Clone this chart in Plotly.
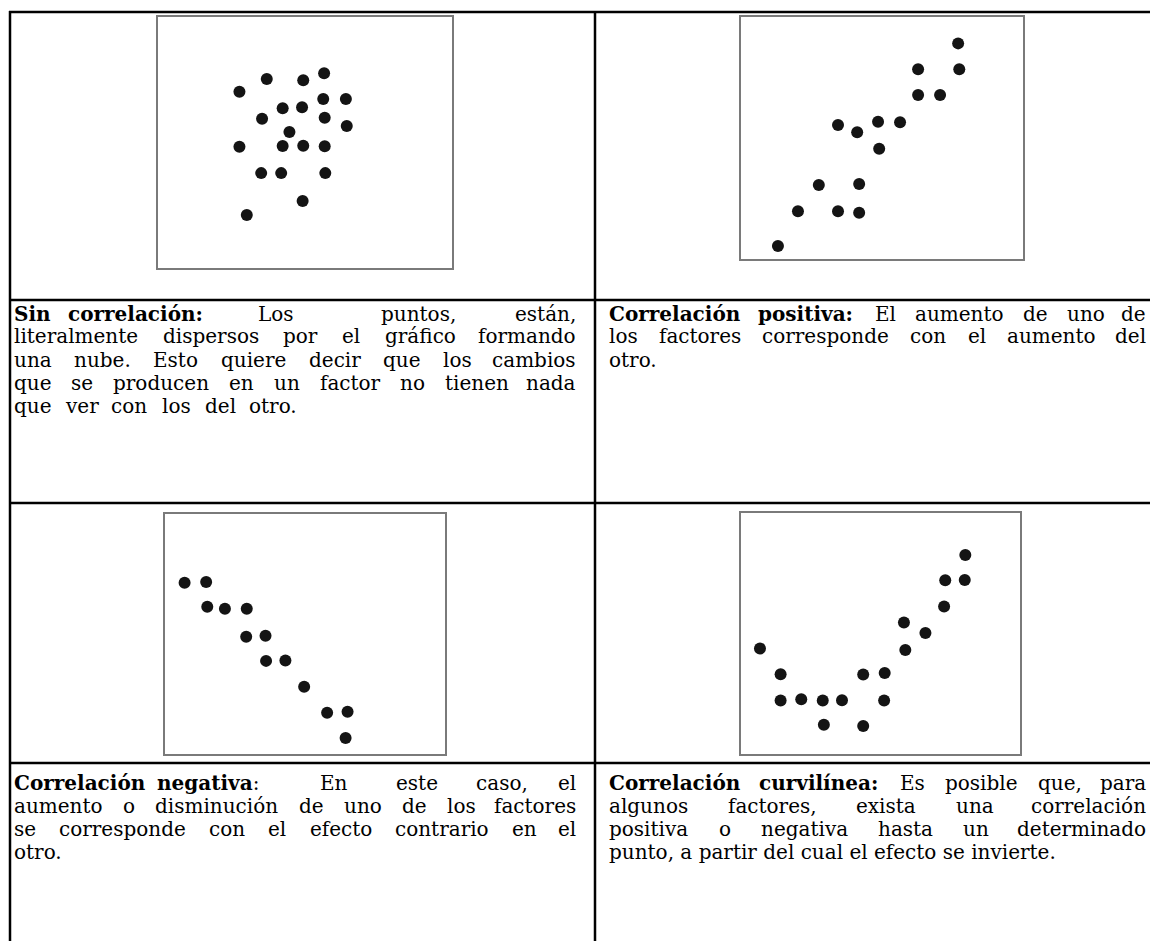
import plotly.graph_objects as go

W, H = 1150, 941

# Scatter panels, values on a 0-100 scale (x right, y up)
sin_x = [27.7, 37.0, 49.4, 56.5, 56.2, 63.9, 42.4, 49.0, 35.4, 56.7, 64.2,
         44.7, 27.7, 42.4, 49.4, 56.7, 35.1, 41.9, 56.9, 49.2, 30.2]
sin_y = [70.2, 75.3, 74.8, 77.6, 67.3, 67.3, 63.6, 64.0, 59.5, 59.9, 56.6,
         54.2, 48.3, 48.6, 48.7, 48.5, 37.8, 37.8, 37.8, 26.7, 21.1]

pos_x = [77.0, 62.8, 77.4, 62.8, 70.6, 34.4, 41.2, 48.6, 56.4, 49.0, 27.6,
         41.9, 20.2, 34.4, 41.9, 13.1]
pos_y = [89.1, 78.4, 78.4, 67.8, 67.8, 55.4, 52.4, 56.7, 56.5, 45.6, 30.6,
         31.0, 19.7, 19.7, 19.1, 5.4]

neg_x = [7.0, 14.7, 15.1, 21.4, 29.2, 29.0, 35.9, 36.1, 43.0, 49.7, 57.9, 65.2, 64.5]
neg_y = [71.4, 71.7, 61.4, 60.5, 60.5, 48.9, 49.3, 38.8, 39.0, 28.0, 17.2, 17.6, 6.7]

curv_x = [6.8, 14.2, 14.2, 21.6, 29.3, 36.2, 29.7, 43.8, 51.5, 51.3, 43.8,
          58.4, 58.9, 66.1, 72.8, 73.2, 80.2, 80.4]
curv_y = [43.8, 33.1, 22.2, 22.7, 22.2, 22.3, 12.1, 33.0, 33.6, 22.2, 11.6,
          54.6, 43.2, 50.2, 61.2, 72.1, 72.2, 82.6]

# Text of the four description cells, one list of words per printed line
cell1_words = [
    ["<b>Sin</b>", "<b>correlación:</b>", "Los", "puntos,", "están,"],
    ["literalmente", "dispersos", "por", "el", "gráfico", "formando"],
    ["una", "nube.", "Esto", "quiere", "decir", "que", "los", "cambios"],
    ["que", "se", "producen", "en", "un", "factor", "no", "tienen", "nada"],
    ["que", "ver", "con", "los", "del", "otro."],
]
cell2_words = [
    ["<b>Correlación</b>", "<b>positiva:</b>", "El", "aumento", "de", "uno", "de"],
    ["los", "factores", "corresponde", "con", "el", "aumento", "del"],
    ["otro."],
]
cell3_words = [
    ["<b>Correlación</b>", "<b>negativa</b>:", "En", "este", "caso,", "el"],
    ["aumento", "o", "disminución", "de", "uno", "de", "los", "factores"],
    ["se", "corresponde", "con", "el", "efecto", "contrario", "en", "el"],
    ["otro."],
]
cell4_words = [
    ["<b>Correlación</b>", "<b>curvilínea:</b>", "Es", "posible", "que,", "para"],
    ["algunos", "factores,", "exista", "una", "correlación"],
    ["positiva", "o", "negativa", "hasta", "un", "determinado"],
    ["punto, a partir del cual el efecto se invierte."],
]

# how each line is set: J = justified with even gaps, P = words at the given
# x (last one flush right), F = words at the given x, left aligned
cell1_mode = ["P", "J", "J", "J", "F"]
cell2_mode = ["J", "J", "F"]
cell3_mode = ["P", "J", "J", "F"]
cell4_mode = ["J", "J", "J", "F"]

cell1_pos = [[13, 67, 257, 380, 499], None, None, None, [13, 64, 110, 161, 204, 248]]
cell2_pos = [None, None, [608]]
cell3_pos = [[13, 156, 319, 395, 475, 561], None, None, [13]]
cell4_pos = [None, None, None, [608]]

FONT = "DejaVu Serif"
FSIZE = 20

# rough advance widths (em) of DejaVu Serif, used to spread the justified lines
REG = {" ": .318, ",": .318, ".": .318, ":": .337, "a": .596, "á": .596, "b": .640,
       "c": .560, "d": .640, "e": .592, "é": .592, "f": .370, "g": .640, "i": .320,
       "í": .320, "l": .320, "m": .948, "n": .644, "o": .602, "ó": .602, "p": .640,
       "q": .640, "r": .478, "s": .513, "t": .402, "u": .644, "v": .565, "x": .564,
       "C": .734, "E": .730, "L": .694, "S": .685}
BOLD = {":": .400, "a": .648, "c": .593, "e": .650, "g": .716, "i": .370, "í": .370,
        "l": .370, "n": .712, "o": .676, "ó": .676, "p": .716, "r": .533, "s": .593,
        "t": .478, "u": .712, "v": .652, "C": .751, "S": .722}


def word_width(w):
    bold = False
    total = 0
    i = 0
    while i < len(w):
        if w.startswith("<b>", i):
            bold, i = True, i + 3
            continue
        if w.startswith("</b>", i):
            bold, i = False, i + 4
            continue
        total += (BOLD if bold else REG).get(w[i], 0.6)
        i += 1
    return total * FSIZE


def px(x):
    return x / W


def py(y):
    return 1 - y / H


fig = go.Figure()

# panel boxes in pixels: left, right, top, bottom
panels = [
    (sin_x, sin_y, (158, 452, 17, 268)),
    (pos_x, pos_y, (741, 1023, 17, 259)),
    (neg_x, neg_y, (165, 445, 514, 754)),
    (curv_x, curv_y, (741, 1020, 513, 754)),
]

layout_axes = {}
for i, (xs, ys, box) in enumerate(panels, start=1):
    sfx = "" if i == 1 else str(i)
    fig.add_trace(go.Scatter(
        x=xs, y=ys, mode="markers",
        xaxis="x" + sfx, yaxis="y" + sfx,
        marker=dict(color="#141414", size=12, line=dict(width=0)),
        hoverinfo="skip", showlegend=False,
    ))
    axis_style = dict(range=[0, 100], showgrid=False, zeroline=False,
                      showticklabels=False, ticks="", showline=True, mirror=True,
                      linecolor="#7a7a7a", linewidth=2, fixedrange=True)
    layout_axes["xaxis" + sfx] = dict(axis_style, domain=[px(box[0]), px(box[1])],
                                      anchor="y" + sfx)
    layout_axes["yaxis" + sfx] = dict(axis_style, domain=[py(box[3]), py(box[2])],
                                      anchor="x" + sfx)

fig.update_layout(**layout_axes)

# table rules
shapes = []
for y in [12, 300, 503, 763]:
    shapes.append(dict(type="line", xref="paper", yref="paper",
                       x0=px(9), x1=1, y0=py(y), y1=py(y),
                       line=dict(color="black", width=2.5)))
for x in [10, 595]:
    shapes.append(dict(type="line", xref="paper", yref="paper",
                       x0=px(x), x1=px(x), y0=py(11), y1=0,
                       line=dict(color="black", width=2.5)))

# text cells: (words, modes, positions, line centres, left edge, right edge)
cells = [
    (cell1_words, cell1_mode, cell1_pos, [313.5, 336.5, 359.5, 382.5, 405.5], 13, 577),
    (cell2_words, cell2_mode, cell2_pos, [313.5, 336.5, 359.5], 608, 1147),
    (cell3_words, cell3_mode, cell3_pos, [783, 806, 829, 852], 13, 577),
    (cell4_words, cell4_mode, cell4_pos, [783, 806, 829, 852], 608, 1147),
]

annotations = []
for words, modes, pos, ys, left, right in cells:
    for line_words, mode, line_pos, y in zip(words, modes, pos, ys):
        widths = [word_width(w) for w in line_words]
        if mode == "J":
            gap = (right - left - sum(widths)) / (len(line_words) - 1)
            xs = [left]
            for wd in widths[:-1]:
                xs.append(xs[-1] + wd + gap)
        else:
            xs = list(line_pos)
            for j in range(1, len(xs)):
                xs[j] = max(xs[j], xs[j - 1] + widths[j - 1] + 6)
        for j, (w, x) in enumerate(zip(line_words, xs)):
            flush = mode in ("J", "P") and j == len(line_words) - 1
            annotations.append(dict(
                text=w, xref="paper", yref="paper",
                x=px(right if flush else x), y=py(y),
                xanchor="right" if flush else "left", yanchor="middle",
                showarrow=False, borderpad=0,
                font=dict(family=FONT, size=FSIZE, color="black"),
            ))

fig.update_layout(
    width=W, height=H,
    margin=dict(l=0, r=0, t=0, b=0),
    paper_bgcolor="white",
    plot_bgcolor="white",
    shapes=shapes,
    annotations=annotations,
)

# drop the page's default body margin so the 1150x941 figure fills the window
fig.write_html("out.html",
               config={"displayModeBar": False},
               post_script="document.body.style.margin='0';"
                           "document.body.style.overflow='hidden';")
